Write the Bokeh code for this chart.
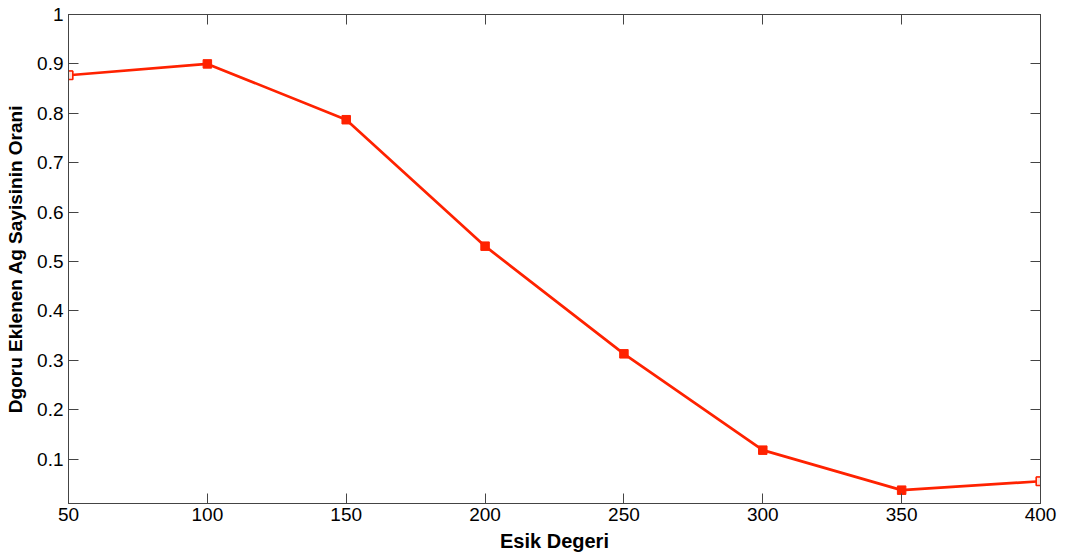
from bokeh.plotting import figure
from bokeh.models import FixedTicker, LinearAxis, Range1d, ColumnDataSource, CDSView, IndexFilter
from bokeh.embed import file_html
from bokeh.resources import INLINE

thresholds = [50, 100, 150, 200, 250, 300, 350, 400]
ratios = [0.877, 0.900, 0.787, 0.531, 0.313, 0.118, 0.037, 0.055]
x_ticks = [50, 100, 150, 200, 250, 300, 350, 400]
y_ticks = [0.1, 0.2, 0.3, 0.4, 0.5, 0.6, 0.7, 0.8, 0.9, 1.0]
x_label = "Esik Degeri"
y_label = "Dgoru Eklenen Ag Sayisinin Orani"

RED = "#ff2200"
FONT = "Liberation Sans"
AX = "#444444"

src = ColumnDataSource(dict(x=thresholds, y=ratios))

p = figure(width=1066, height=560, output_backend="svg", toolbar_location=None,
           x_range=Range1d(50, 400), y_range=Range1d(0.01, 1.0),
           min_border_left=68, min_border_right=26, min_border_top=14, min_border_bottom=57)
p.grid.visible = False
p.outline_line_color = AX
p.background_fill_color = "white"
p.border_fill_color = "white"

p.line("x", "y", source=src, line_color=RED, line_width=2.7)
p.scatter("x", "y", source=src, marker="square", size=8.5, fill_color=RED, line_color=RED)
p.scatter("x", "y", source=src, view=CDSView(filter=IndexFilter([0, 7])), marker="square",
          size=8.5, fill_color="#ffe0d8", line_color=RED, line_width=1.5)

def style(ax, labels=True):
    ax.axis_line_color = AX
    ax.major_tick_line_color = AX
    ax.major_tick_in = 10
    ax.major_tick_out = 0
    ax.minor_tick_line_color = None
    ax.major_label_text_font = FONT
    ax.major_label_text_font_size = "19px"
    ax.major_label_text_color = "black"
    ax.axis_label_text_font = FONT
    ax.axis_label_text_font_size = "19px"
    ax.axis_label_text_font_style = "bold"
    ax.axis_label_text_color = "black"
    if not labels:
        ax.major_label_text_font_size = "0px"
        ax.major_label_text_alpha = 0

xa = p.xaxis[0]
ya = p.yaxis[0]
style(xa)
style(ya)
xa.axis_label_text_font_size = "20px"
xa.ticker = FixedTicker(ticks=x_ticks)
ya.ticker = FixedTicker(ticks=y_ticks)
ya.major_label_overrides = {1.0: "1", 1: "1"}
xa.axis_label = x_label
ya.axis_label = y_label
xa.major_label_standoff = 4
ya.major_label_standoff = 5
xa.axis_label_standoff = 6
ya.axis_label_standoff = 8

top = LinearAxis(ticker=FixedTicker(ticks=x_ticks))
right = LinearAxis(ticker=FixedTicker(ticks=y_ticks))
style(top, labels=False)
style(right, labels=False)
top.major_label_standoff = 0
right.major_label_standoff = 0
p.add_layout(top, "above")
p.add_layout(right, "right")

open("out.html", "w").write(file_html(p, INLINE))
